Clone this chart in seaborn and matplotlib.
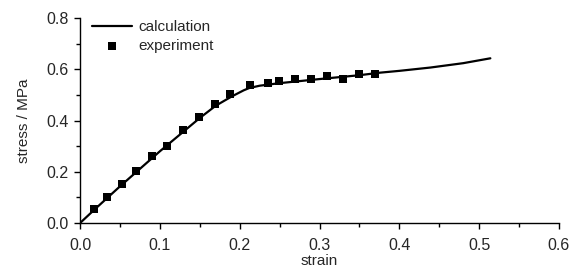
import matplotlib
matplotlib.use("Agg")
import matplotlib.pyplot as plt
import seaborn as sns
import numpy as np
from matplotlib.ticker import MultipleLocator, FormatStrFormatter

# experiment points (strain, stress)
exp_strain = [0.017, 0.034, 0.053, 0.070, 0.090, 0.109, 0.129, 0.149, 0.169, 0.188,
              0.213, 0.235, 0.249, 0.269, 0.289, 0.309, 0.329, 0.350, 0.369]
exp_stress = [0.053, 0.103, 0.152, 0.202, 0.260, 0.300, 0.362, 0.412, 0.463, 0.502,
              0.537, 0.546, 0.553, 0.562, 0.562, 0.572, 0.561, 0.582, 0.582]

# calculation curve
calc_strain = [0.0, 0.02, 0.05, 0.10, 0.15, 0.17, 0.19, 0.205, 0.212, 0.225, 0.25, 0.30,
               0.35, 0.376, 0.40, 0.439, 0.48, 0.514]
calc_stress = [0.0, 0.058, 0.143, 0.280, 0.410, 0.458, 0.494, 0.518, 0.527, 0.536, 0.546, 0.562,
               0.577, 0.587, 0.594, 0.607, 0.624, 0.643]

sns.set_style("ticks")
plt.rcParams['font.family'] = ['Liberation Sans', 'DejaVu Sans']

fig = plt.figure(figsize=(5.7, 2.74), dpi=100)
ax = fig.add_axes([0.1404, 0.186, 0.8403, 0.748])

sns.lineplot(x=calc_strain, y=calc_stress, ax=ax, color='black', lw=1.6,
             label='calculation', sort=False)
sns.scatterplot(x=exp_strain, y=exp_stress, ax=ax, color='black', marker='s',
                s=30, edgecolor='black', linewidth=0, label='experiment', zorder=3)

ax.set_xlim(0, 0.6)
ax.set_ylim(0, 0.8)
ax.xaxis.set_major_locator(MultipleLocator(0.1))
ax.xaxis.set_minor_locator(MultipleLocator(0.05))
ax.yaxis.set_major_locator(MultipleLocator(0.2))
ax.yaxis.set_minor_locator(MultipleLocator(0.1))
ax.xaxis.set_major_formatter(FormatStrFormatter('%.1f'))
ax.yaxis.set_major_formatter(FormatStrFormatter('%.1f'))
ax.tick_params(which='major', length=4.5, width=1, labelsize=11.5, pad=3.5, color='black')
ax.tick_params(which='minor', length=3, width=1, color='black')
ax.tick_params(axis='x', which='major', pad=6)
sns.despine(ax=ax)
for s in ['left', 'bottom']:
    ax.spines[s].set_linewidth(1)
    ax.spines[s].set_color('black')

ax.set_xlabel('strain', fontsize=11, labelpad=1)
ax.set_ylabel('stress / MPa', fontsize=11, labelpad=11)

ax.legend(loc='upper left', frameon=False, fontsize=11, handlelength=2.6,
          handletextpad=0.45, borderaxespad=0.0, labelspacing=0.3,
          bbox_to_anchor=(0.012, 1.02))

fig.savefig('out.png', dpi=100)
